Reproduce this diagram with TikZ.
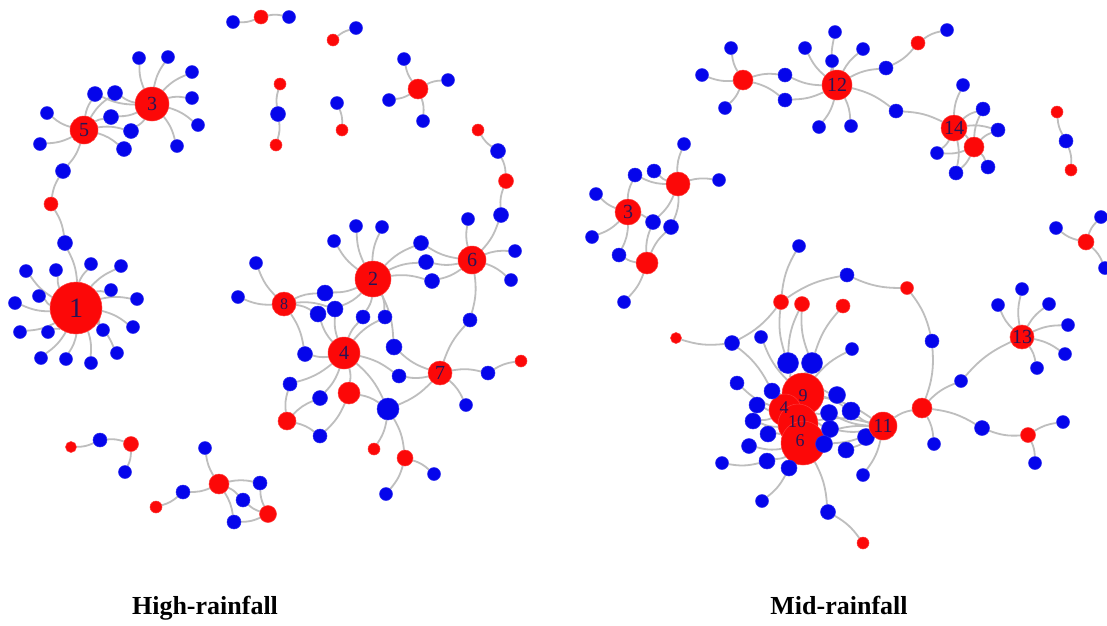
\documentclass[tikz,border=0pt]{standalone}
\usepackage{fontspec}
\setmainfont{Liberation Serif}
\usetikzlibrary{backgrounds}
\definecolor{nred}{RGB}{252,8,8}
\definecolor{nblue}{RGB}{5,5,235}
\definecolor{edgec}{RGB}{190,190,190}
\definecolor{labc}{RGB}{40,20,85}
\tikzset{
  bn/.style={circle,fill=nblue,draw=nblue!85!white,line width=0.5pt,inner sep=0pt,minimum size=#1},
  bn/.default=13,
  rn/.style={circle,fill=nred,draw=nred!80!white,line width=0.5pt,inner sep=0pt,minimum size=#1,
    text=labc,font=\fontsize{20}{20}\selectfont},
  rn/.default=14,
  lab/.style={text=labc,inner sep=0pt,font=\fontsize{18}{18}\selectfont},
  lnk/.style={draw=edgec,line width=1.8pt,bend left=12},
  ttl/.style={inner sep=0pt,font=\fontsize{26}{26}\selectfont\bfseries}
}
% blue node, red node, and a fan of links from one node
\newcommand\BN[3][13]{\node[bn=#1] (#2) at (#3) {};}
\newcommand\RN[4][14]{\node[rn=#1] (#2) at (#3) {#4};}
\newcommand\LK[2]{\foreach \tg in {#2} {\draw[lnk] (#1) to (\tg);}}
\begin{document}
\begin{tikzpicture}[x=1pt,y=-1pt]
\useasboundingbox (0,0) rectangle (1107,625);

%% ---------- High-rainfall network ----------
% small pieces at the top
\BN{ta}{233,22} \RN[14]{tb}{261,17}{} \BN{tc}{289,17}
\RN[12]{pa}{333,40}{} \BN{pb}{356,28}
\RN[12]{ca}{280,84}{} \BN[15]{cb}{278,114} \RN[12]{cc}{276,145}{}
\BN{da}{337,103} \RN[12]{db}{342,130}{}
\RN[20]{ea}{418,89}{} \BN{eb}{404,59} \BN{ec}{448,80} \BN{ed}{389,100} \BN{ee}{423,121}

% hubs 3, 5 and 1
\RN[34]{hA}{152,104}{3}
\RN[28]{hB}{84,130}{5}
\node[rn=52,font=\fontsize{28}{28}\selectfont] (hC) at (76,308) {1};
\BN{a1}{139,58} \BN{a2}{168,57} \BN{a3}{192,72} \BN{a4}{192,98} \BN{a5}{198,125} \BN{a6}{177,146}
\BN[15]{s1}{95,94} \BN[15]{s2}{115,93} \BN[15]{s3}{111,117} \BN[15]{s4}{131,131} \BN[15]{s5}{124,149}
\BN{b1}{47,113} \BN{b2}{40,144} \BN[15]{b3}{63,171}
\RN[14]{lr}{51,204}{} \BN[15]{lb}{65,243}
\BN{c1}{26,271} \BN{c2}{56,270} \BN{c3}{91,264} \BN{c4}{121,266}
\BN{c5}{39,296} \BN{c6}{111,290} \BN{c7}{15,303} \BN{c8}{137,299}
\BN{c9}{20,332} \BN{c10}{48,332} \BN{c11}{103,330} \BN{c12}{133,327}
\BN{c13}{117,353} \BN{c14}{41,358} \BN{c15}{66,359} \BN{c16}{91,363}

% hubs 2, 6, 8, 4, 7
\RN[36]{h2}{373,279}{2}
\RN[28]{h6}{472,260}{6}
\node[rn=24,font=\fontsize{16}{16}\selectfont] (h8) at (284,304) {8};
\RN[32]{h4}{344,353}{4}
\RN[24]{h7}{440,373}{7}
\RN[22]{g1}{349,393}{} \RN[18]{g2}{287,421}{} \BN[22]{g3}{388,409}
\RN[12]{k1}{478,130}{} \BN[15]{k2}{498,151} \RN[15]{k3}{506,181}{} \BN[15]{k4}{501,215}
\BN{u1}{334,241} \BN{u2}{356,226} \BN{u3}{382,227}
\BN[15]{u4}{421,243} \BN[15]{u5}{426,262} \BN[15]{u6}{432,281}
\BN[16]{v1}{325,293} \BN[16]{v2}{335,309} \BN[16]{v3}{318,314}
\BN[14]{v4}{363,317} \BN[14]{v5}{385,317} \BN[16]{v6}{394,347}
\BN{w1}{468,219} \BN{w2}{515,251} \BN{w3}{511,280} \BN[14]{w4}{470,320}
\BN{x1}{256,263} \BN{x2}{238,297}
\BN[15]{y1}{305,354} \BN[14]{y2}{290,384} \BN[15]{y3}{320,398} \BN[14]{y4}{320,436} \BN[14]{y5}{399,376}
\BN[14]{z1}{488,373} \RN[12]{z2}{521,361}{} \BN{z3}{466,405}
\RN[12]{q1}{374,449}{} \RN[16]{q2}{405,458}{} \BN{q3}{434,474} \BN{q4}{386,494}

% bottom pieces
\RN[11]{m1}{71,447}{} \BN[14]{m2}{100,440} \RN[15]{m3}{131,444}{} \BN{m4}{125,472}
\RN[20]{i0}{219,484}{} \BN{i1}{205,448} \BN[14]{i2}{183,492} \RN[12]{i3}{156,507}{}
\BN[14]{i4}{260,483} \BN[14]{i5}{243,500} \RN[17]{i6}{268,514}{} \BN[14]{i7}{234,522}

%% ---------- Mid-rainfall network ----------
% hubs 12 and 14
\RN[20]{j0}{743,80}{}
\BN{j1}{731,48} \BN{j2}{702,75} \BN{j3}{725,108} \BN[14]{j4}{785,75} \BN[14]{j5}{785,100}
\RN[30]{h12}{837,85}{12}
\BN{p1}{835,32} \BN{p2}{805,48} \BN{p3}{832,61} \BN{p4}{863,49} \BN{p5}{819,127} \BN{p6}{851,126}
\BN[14]{p7}{886,68} \RN[14]{pr}{918,43}{} \BN{p8}{947,30} \BN[14]{p9}{896,111}
\RN[26]{h14}{954,128}{14}
\RN[20]{o0}{974,147}{}
\BN{o1}{963,85} \BN[14]{o2}{983,109} \BN[14]{o3}{998,130} \BN{o4}{937,153} \BN[14]{o5}{956,173} \BN[14]{o6}{988,167}
\RN[12]{ka}{1057,112}{} \BN[14]{kb}{1066,141} \RN[12]{kc}{1071,170}{}
\RN[16]{la}{1086,242}{} \BN{lb1}{1056,228} \BN{lb2}{1101,217} \BN{lb3}{1105,268}

% hub 3 group
\RN[26]{h3r}{628,212}{3}
\RN[24]{mr1}{678,184}{} \RN[22]{mr2}{647,263}{}
\BN{mb1}{684,144} \BN{mb2}{719,180} \BN[14]{mb3}{635,175} \BN[14]{mb4}{654,171}
\BN{mb5}{596,194} \BN{mb6}{592,237} \BN[15]{mb7}{653,222} \BN[15]{mb8}{671,227}
\BN[14]{mb9}{619,255} \BN{mb10}{624,302}

% central cluster 9, 4, 10, 6 with 11 and 13
\BN[21]{T1}{788,363} \BN[21]{T2}{812,363}
\node[rn=42] (hn9) at (803,394) {};
\node[rn=32] (hn4) at (785,410) {};
\node[rn=40] (hn10) at (798,424) {};
\node[rn=44] (hn6) at (803,443) {};
\node[lab] (t9) at (803,396) {9};
\node[lab] (t4) at (784,408) {4};
\node[lab] (t10) at (797,422) {10};
\node[lab] (t6) at (800,441) {6};
\RN[15]{nr781}{781,302}{} \RN[15]{nr802}{802,304}{} \RN[14]{nr843}{843,306}{}
\BN{nb799}{799,246} \BN[14]{nb847}{847,275} \RN[13]{nr907}{907,288}{} \BN[14]{nb932}{932,341}
\RN[11]{nr676}{676,338}{} \BN[15]{nb732}{732,343} \BN{nb761}{761,337} \BN{nb852}{852,349}
\BN[14]{L1}{737,383} \BN[16]{L2}{772,391} \BN[16]{L3}{757,405} \BN[16]{L4}{753,421} \BN[16]{L5}{768,434}
\BN[15]{L6}{749,446} \BN[16]{L7}{767,461} \BN{L8}{722,463} \BN[16]{L9}{789,468}
\BN[17]{R1}{837,395} \BN[18]{R2}{851,411} \BN[17]{R3}{829,413} \BN[17]{R4}{830,429}
\BN[17]{R5}{824,444} \BN[16]{R6}{846,450} \BN[17]{R7}{866,437} \BN{R8}{863,475}
\BN{D1}{762,501} \BN[15]{D2}{828,512} \RN[12]{D3}{863,543}{}
\RN[28]{h11}{883,426}{11}
\RN[20]{nr922}{922,408}{} \BN{nb934}{934,444} \BN{nb961}{961,381}
\RN[24]{h13}{1022,337}{13}
\BN{e1}{998,305} \BN{e2}{1022,289} \BN{e3}{1049,304} \BN{e4}{1068,325} \BN{e5}{1065,354} \BN{e6}{1037,368}
\BN[15]{nb982}{982,428} \RN[15]{nr1028}{1028,435}{} \BN{nb1063}{1063,422} \BN{nb1035}{1035,463}

% captions
\node[ttl,anchor=base] (cap1) at (205,614) {High-rainfall};
\node[ttl,anchor=base] (cap2) at (839,614) {Mid-rainfall};

%% ---------- links, behind the nodes ----------
\begin{scope}[on background layer]
\fill[white] (0,0) rectangle (1107,625);
\LK{tb}{ta,tc} \LK{pa}{pb} \LK{cb}{ca,cc} \LK{da}{db} \LK{ea}{eb,ec,ed,ee}
\LK{hA}{a1,a2,a3,a4,a5,a6,s1,s2,s3,s4}
\LK{hB}{s1,s2,s3,s4,s5,b1,b2,b3}
\LK{lr}{b3,lb} \LK{lb}{hC}
\LK{hC}{c1,c2,c3,c4,c5,c6,c7,c8,c9,c10,c11,c12,c13,c14,c15,c16}
\LK{k2}{k1,k3} \LK{k4}{k3,h6}
\LK{h2}{u1,u2,u3,u4,u5,u6,v1,v2,v4,v5,v6}
\LK{h6}{u4,u5,u6,w1,w2,w3,w4}
\LK{h8}{v1,v2,v3,x1,x2,y1}
\LK{h4}{v2,v3,v4,v5,y1,y2,y3,g1,g3,y5}
\LK{h7}{w4,y5,g3,z1,z3,v6}
\LK{z1}{z2}
\LK{g2}{y2,y3,y4} \LK{g1}{y4,g3}
\LK{g3}{q1,q2} \LK{q2}{q3,q4}
\LK{m2}{m1,m3} \LK{m3}{m4}
\LK{i0}{i1,i2,i4,i5,i7} \LK{i2}{i3} \LK{i6}{i4,i5,i7}
\LK{j0}{j1,j2,j3,j4,j5}
\LK{h12}{j4,j5,p1,p2,p3,p4,p5,p6,p7,p9}
\LK{pr}{p7,p8} \LK{p9}{h14}
\LK{h14}{o1,o2,o3,o4,o5,o0}
\LK{o0}{o2,o3,o4,o5,o6}
\LK{kb}{ka,kc} \LK{la}{lb1,lb2,lb3}
\LK{h3r}{mb3,mb5,mb6,mb7,mb9}
\LK{mr1}{mb1,mb2,mb3,mb4,mb7,mb8}
\LK{mr2}{mb7,mb8,mb9,mb10}
\LK{hn9}{T1,T2,L2,R1,R2,nb761,nb852,h11}
\LK{T1}{nr781,nr802} \LK{T2}{nr802,nr843}
\LK{nr781}{nb799,nb847,nb732}
\LK{nr907}{nb847,nb932} \LK{nb932}{nr922}
\LK{nb732}{nr676,L2}
\LK{hn4}{L1,L3,L4} \LK{hn10}{L4,L5,R3,R4,h11} \LK{hn6}{L6,L7,L9,R5,D2,h11}
\LK{L7}{L8} \LK{L9}{D1} \LK{D2}{D3}
\LK{h11}{R2,R3,R4,R5,R6,R7,R8,nr922}
\LK{nr922}{nb934,nb961,nb982}
\LK{nb961}{h13}
\LK{h13}{e1,e2,e3,e4,e5,e6}
\LK{nr1028}{nb982,nb1063,nb1035}
\end{scope}
\end{tikzpicture}
\end{document}
